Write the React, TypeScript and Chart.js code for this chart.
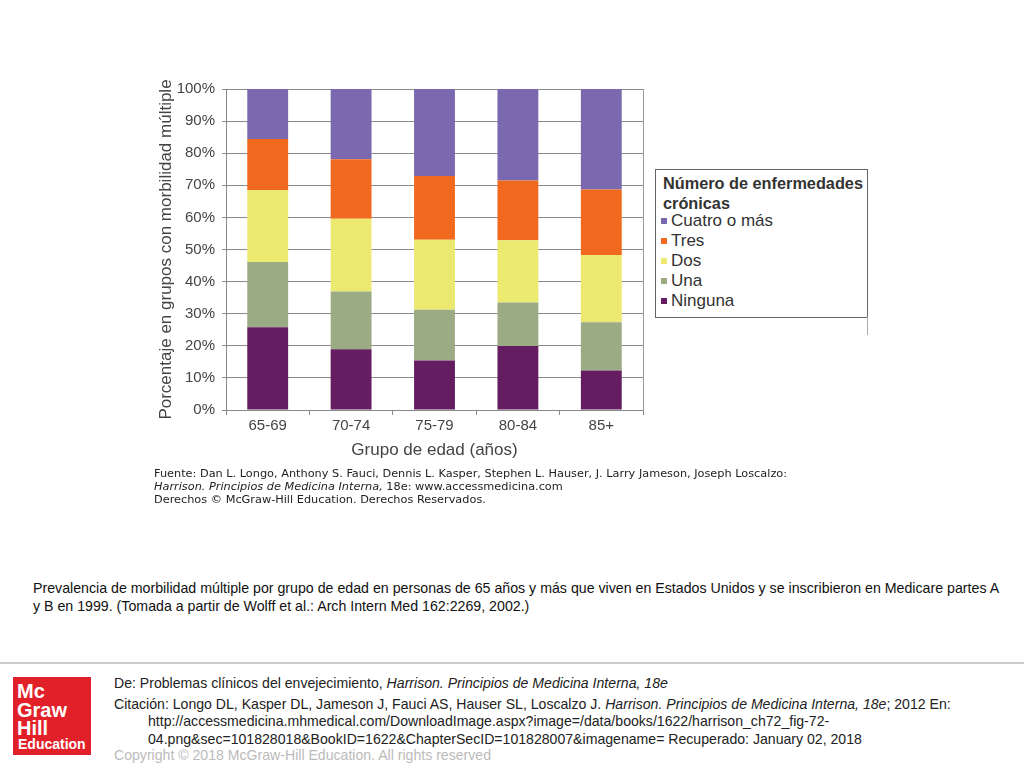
import React, { useEffect, useRef } from "react";
import { Chart, registerables } from "chart.js";

Chart.register(...registerables);

const categories = ["65-69", "70-74", "75-79", "80-84", "85+"];
const ninguna = [25.8, 18.9, 15.4, 19.9, 12.3];
const una = [20.3, 18.0, 15.8, 13.6, 15.0];
const dos = [22.4, 22.7, 21.8, 19.4, 21.0];
const tres = [15.9, 18.5, 19.9, 18.6, 20.4];
const cuatro = [15.6, 21.9, 27.1, 28.5, 31.3];
const seriesNames = ["Ninguna", "Una", "Dos", "Tres", "Cuatro o más"];
const seriesColors = ["#651d62", "#9bab83", "#ebe96f", "#f0691f", "#7b69af"];
const yTicks = [0, 10, 20, 30, 40, 50, 60, 70, 80, 90, 100];

const FONT = "'Liberation Sans', Arial, Helvetica, sans-serif";

export default function App() {
  const ref = useRef<HTMLCanvasElement | null>(null);

  useEffect(() => {
    if (!ref.current) return;
    const values = [ninguna, una, dos, tres, cuatro];
    const chart = new Chart(ref.current, {
      type: "bar",
      data: {
        labels: categories,
        datasets: seriesNames.map((n, i) => ({
          label: n,
          data: values[i],
          backgroundColor: seriesColors[i],
          borderWidth: 0,
          categoryPercentage: 1,
          barPercentage: 0.49,
        })),
      },
      options: {
        animation: false,
        responsive: false,
        maintainAspectRatio: false,
        layout: { padding: { top: 11, right: 7, left: 0, bottom: 0 } },
        plugins: { legend: { display: false }, tooltip: { enabled: false } },
        scales: {
          x: {
            stacked: true,
            grid: {
              offset: true,
              drawOnChartArea: false,
              drawTicks: true,
              tickLength: 5,
              color: "#888",
            },
            border: { display: true, color: "#888", width: 1 },
            ticks: {
              color: "#444",
              padding: 2,
              font: { family: FONT, size: 15 },
            },
            title: {
              display: true,
              text: "Grupo de edad (años)",
              color: "#444",
              font: { family: FONT, size: 17 },
              padding: { top: 4, bottom: 9 },
            },
            afterFit: (s: any) => {
              s.height = 60;
            },
          },
          y: {
            stacked: true,
            min: 0,
            max: 100,
            afterBuildTicks: (s: any) => {
              s.ticks = yTicks.map((v) => ({ value: v }));
            },
            grid: { color: "#8a8a8a", tickLength: 4, lineWidth: 1 },
            border: { display: true, color: "#888", width: 1 },
            ticks: {
              color: "#444",
              padding: 7,
              font: { family: FONT, size: 15 },
              callback: (v: any) => v + "%",
            },
            title: {
              display: true,
              text: "Porcentaje en grupos con morbilidad múltiple",
              color: "#444",
              font: { family: FONT, size: 17 },
              padding: { top: 11, bottom: 4 },
            },
            afterFit: (s: any) => {
              s.width = 81;
            },
          },
          y2: {
            position: "right",
            min: 0,
            max: 100,
            grid: { display: false, drawOnChartArea: false, drawTicks: false },
            border: { display: true, color: "#999", width: 1 },
            ticks: { display: false },
            afterFit: (s: any) => {
              s.width = 0;
            },
          },
        },
      },
    });
    return () => chart.destroy();
  }, []);

  const legendItems = [...seriesNames].map((n, i) => ({ n, c: seriesColors[i] })).reverse();

  return (
    <div
      style={{
        position: "absolute",
        left: 0,
        top: 0,
        width: 1024,
        height: 768,
        background: "#fff",
        fontFamily: FONT,
        overflow: "hidden",
      }}
    >
      <canvas
        ref={ref}
        width={505}
        height={397}
        style={{ position: "absolute", left: 145, top: 73, width: 505, height: 397 }}
      />
      {/* legend */}
      <div
        style={{
          position: "absolute",
          left: 655,
          top: 169,
          width: 211,
          height: 147,
          border: "1.5px solid #666",
          boxSizing: "content-box",
        }}
      >
        <div
          style={{
            position: "absolute",
            left: 7,
            top: 3,
            fontWeight: "bold",
            fontSize: 16.3,
            lineHeight: "20px",
            color: "#333",
            whiteSpace: "nowrap",
          }}
        >
          Número de enfermedades
          <br />
          crónicas
        </div>
        {legendItems.map((it, i) => (
          <div
            key={it.n}
            style={{
              position: "absolute",
              left: 5,
              top: 41 + i * 20,
              fontSize: 17,
              lineHeight: "20px",
              color: "#333",
              whiteSpace: "nowrap",
              display: "flex",
              alignItems: "center",
            }}
          >
            <span
              style={{
                display: "inline-block",
                width: 6,
                height: 6,
                background: it.c,
                marginRight: 4,
              }}
            />
            {it.n}
          </div>
        ))}
      </div>
      <div
        style={{ position: "absolute", left: 867, top: 317, width: 1, height: 18, background: "#aaa" }}
      />
      {/* source */}
      <div
        style={{
          position: "absolute",
          left: 154,
          top: 467,
          fontFamily: "'DejaVu Sans', Verdana, sans-serif",
          fontSize: 11.3,
          lineHeight: "13px",
          color: "#222",
          whiteSpace: "nowrap",
        }}
      >
        <div>
          Fuente: Dan L. Longo, Anthony S. Fauci, Dennis L. Kasper, Stephen L. Hauser, J. Larry Jameson, Joseph
          Loscalzo:
        </div>
        <div>
          <i>Harrison. Principios de Medicina Interna,</i> 18e: www.accessmedicina.com
        </div>
        <div>Derechos © McGraw-Hill Education. Derechos Reservados.</div>
      </div>
      {/* caption */}
      <div
        style={{
          position: "absolute",
          left: 33,
          top: 579,
          fontSize: 14.2,
          lineHeight: "18px",
          color: "#111",
          whiteSpace: "nowrap",
        }}
      >
        <div>
          Prevalencia de morbilidad múltiple por grupo de edad en personas de 65 años y más que viven en Estados Unidos y
          se inscribieron en Medicare partes A
        </div>
        <div>y B en 1999. (Tomada a partir de Wolff et al.: Arch Intern Med 162:2269, 2002.)</div>
      </div>
      {/* separator */}
      <div style={{ position: "absolute", left: 0, top: 662, width: 1024, height: 2, background: "#ccc" }} />
      {/* logo */}
      <div
        style={{
          position: "absolute",
          left: 13,
          top: 677,
          width: 78,
          height: 78,
          background: "#e2202a",
          color: "#fff",
          fontWeight: "bold",
        }}
      >
        <div style={{ position: "absolute", left: 4, top: 5, fontSize: 20, lineHeight: "18.5px" }}>
          Mc
          <br />
          Graw
          <br />
          Hill
        </div>
        <div style={{ position: "absolute", left: 5, top: 59, fontSize: 14, lineHeight: "16px" }}>Education</div>
      </div>
      {/* footer text */}
      <div
        style={{
          position: "absolute",
          left: 114,
          top: 675,
          fontSize: 14.1,
          lineHeight: "17.5px",
          color: "#222",
          whiteSpace: "nowrap",
        }}
      >
        <div>
          De: Problemas clínicos del envejecimiento, <i>Harrison. Principios de Medicina Interna, 18e</i>
        </div>
        <div style={{ marginTop: 3 }}>
          Citación: Longo DL, Kasper DL, Jameson J, Fauci AS, Hauser SL, Loscalzo J.{" "}
          <i>Harrison. Principios de Medicina Interna, 18e</i>; 2012 En:
        </div>
        <div style={{ paddingLeft: 34 }}>
          http://accessmedicina.mhmedical.com/DownloadImage.aspx?image=/data/books/1622/harrison_ch72_fig-72-
        </div>
        <div style={{ paddingLeft: 34 }}>
          04.png&amp;sec=101828018&amp;BookID=1622&amp;ChapterSecID=101828007&amp;imagename= Recuperado: January 02, 2018
        </div>
        <div style={{ color: "#bbb", marginTop: -1.5 }}>Copyright © 2018 McGraw-Hill Education. All rights reserved</div>
      </div>
    </div>
  );
}
